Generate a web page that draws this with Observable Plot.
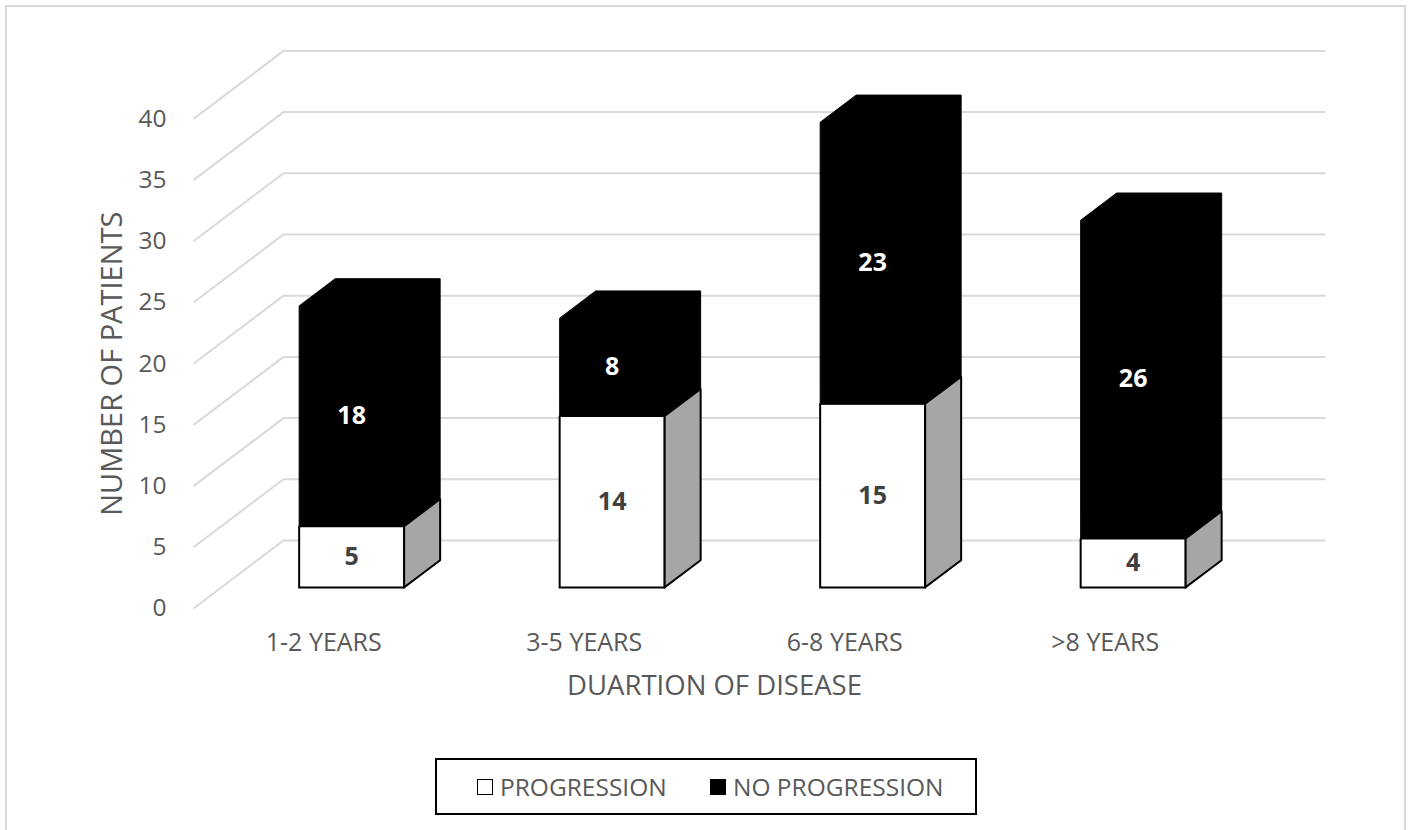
<!DOCTYPE html>
<html>
<head>
<meta charset="utf-8">
<script src="https://cdn.jsdelivr.net/npm/d3@7"></script>
<script src="https://cdn.jsdelivr.net/npm/@observablehq/plot@0.6"></script>
<style>
  html, body { margin: 0; padding: 0; background: #ffffff; width: 1408px; height: 830px; overflow: hidden; }
  #frame { position: absolute; left: 5px; top: 5px; width: 1401px; height: 900px; box-sizing: border-box; border: 2px solid #d9d9d9; pointer-events: none; }
  #chart { position: absolute; left: 0; top: 0; }
  #legend { position: absolute; left: 435px; top: 758px; width: 542px; height: 57px; box-sizing: border-box; border: 2px solid #000; font-family: "Open Sans", sans-serif; font-size: 24.5px; color: #595959; }
  .item { position: absolute; top: 0; height: 53px; display: flex; align-items: center; }
  .sw { width: 16px; height: 16px; box-sizing: border-box; border: 1.5px solid #000; margin-right: 7px; }
</style>
</head>
<body>
<div id="chart"></div>
<div id="frame"></div>
<div id="legend"></div>
<script>
// ---- data ----
const categories = ["1-2 YEARS", "3-5 YEARS", "6-8 YEARS", ">8 YEARS"];
const progression = [5, 14, 15, 4];
const noProgression = [18, 8, 23, 26];
const yTicks = [0, 5, 10, 15, 20, 25, 30, 35, 40];
const seriesNames = ["PROGRESSION", "NO PROGRESSION"];
const seriesColors = ["#ffffff", "#000000"];
const xTitle = "DUARTION OF DISEASE";
const yTitle = "NUMBER OF PATIENTS";

// ---- 3D oblique geometry (in data units) ----
const DX = 90 / 260.5;    // full floor depth along x (category units)
const DY = 68 / 12.24;    // full floor depth along y (value units)
const F0 = 0.31, F1 = 0.71; // bar front / back depth fractions
const HW = 0.2015;          // half bar width (category units)
const xMin = -0.5, xMax = categories.length - 0.5;

// gridlines: diagonal on the side wall + horizontal on the back wall
const gridPts = yTicks.flatMap(v => [
  {id: v, x: xMin, y: v},
  {id: v, x: xMin + DX, y: v + DY},
  {id: v, x: xMax + DX, y: v + DY}
]);

const whiteFaces = [], grayFaces = [], blackFaces = [];
const labels = [];
categories.forEach((c, i) => {
  const w = progression[i], b = noProgression[i], t = w + b;
  const ox = F0 * DX, oy = F0 * DY;
  const sx = (F1 - F0) * DX, sy = (F1 - F0) * DY;
  const xl = i - HW + ox, xr = i + HW + ox;
  const poly = (arr, id, pts) => { pts.push(pts[0]); pts.forEach(([x, y]) => arr.push({id, x, y})); };
  poly(whiteFaces, c, [[xl, oy], [xr, oy], [xr, oy + w], [xl, oy + w]]);
  poly(grayFaces, c, [[xr, oy], [xr + sx, oy + sy], [xr + sx, oy + w + sy], [xr, oy + w]]);
  poly(blackFaces, c, [[xl, oy + w], [xl, oy + t], [xl + sx, oy + t + sy], [xr + sx, oy + t + sy], [xr + sx, oy + w + sy], [xr, oy + w]]);
  labels.push({x: i + ox, y: oy + w / 2, text: String(w), fill: "#404040"});
  labels.push({x: i + ox, y: oy + w + b / 2, text: String(b), fill: "#ffffff"});
});

const chart = Plot.plot({
  width: 1408,
  height: 730,
  marginLeft: 193,
  marginRight: 173,
  marginTop: 118.4,
  marginBottom: 122,
  x: {domain: [xMin, xMax]},
  y: {domain: [0, 40]},
  style: {fontFamily: "Open Sans, sans-serif", background: "transparent", overflow: "visible"},
  marks: [
    Plot.line(gridPts, {x: "x", y: "y", z: "id", stroke: "#d9d9d9", strokeWidth: 2, strokeLinecap: "butt", strokeLinejoin: "miter"}),
    Plot.line(whiteFaces, {x: "x", y: "y", z: "id", fill: "#ffffff", stroke: "#000000", strokeWidth: 2, strokeLinejoin: "miter", strokeLinecap: "square"}),
    Plot.line(grayFaces, {x: "x", y: "y", z: "id", fill: "#a6a6a6", stroke: "#000000", strokeWidth: 2, strokeLinejoin: "miter", strokeLinecap: "square"}),
    Plot.line(blackFaces, {x: "x", y: "y", z: "id", fill: "#000000", stroke: "#000000", strokeWidth: 1, strokeLinejoin: "miter"}),
    Plot.text(labels, {x: "x", y: "y", text: "text", fill: "fill", fontSize: 25, fontWeight: "bold"}),
    Plot.axisY({ticks: yTicks, tickSize: 0, tickPadding: 27, fontSize: 24.5, fill: "#595959", label: null}),
    Plot.axisX({ticks: d3.range(categories.length), tickFormat: i => categories[i], tickSize: 0, tickPadding: 25, fontSize: 25, fill: "#595959", label: null}),
    Plot.text([xTitle], {frameAnchor: "bottom", dy: 86, fontSize: 27.5, fill: "#595959"}),
    Plot.text([yTitle], {frameAnchor: "left", textAnchor: "middle", dx: -81, rotate: -90, fontSize: 29, fill: "#595959"})
  ]
});
document.getElementById("chart").appendChild(chart);

// legend (HTML, below the SVG)
const legend = document.getElementById("legend");
const legendX = [40, 273];
seriesNames.forEach((name, k) => {
  const item = document.createElement("div");
  item.className = "item";
  item.style.left = legendX[k] + "px";
  const sw = document.createElement("div");
  sw.className = "sw";
  sw.style.background = seriesColors[k];
  const tx = document.createElement("span");
  tx.textContent = name;
  item.appendChild(sw);
  item.appendChild(tx);
  legend.appendChild(item);
});
</script>
</body>
</html>
